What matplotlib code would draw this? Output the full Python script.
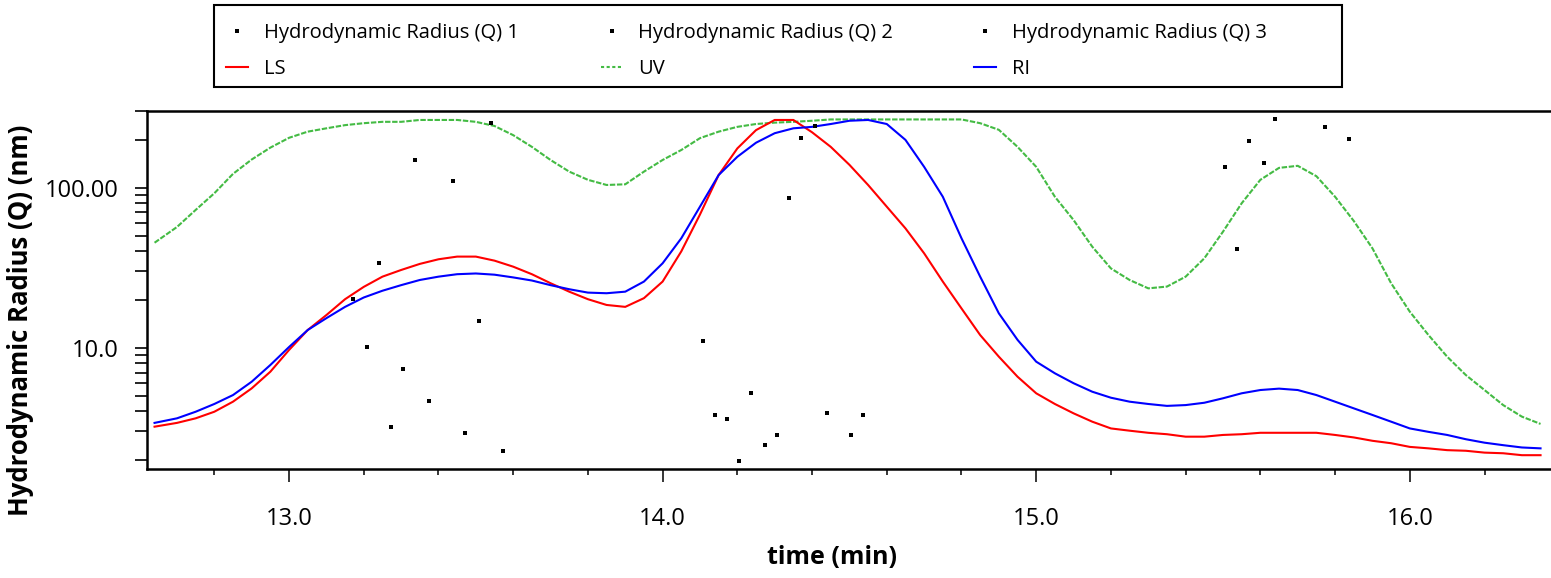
import matplotlib
matplotlib.use("Agg")
import matplotlib.pyplot as plt
from matplotlib.ticker import LogLocator, MultipleLocator, NullFormatter, FuncFormatter, FixedLocator
from matplotlib.lines import Line2D
from matplotlib.patches import Rectangle

plt.rcParams['font.family'] = ['Open Sans', 'DejaVu Sans']

# ---------------- data ----------------
time_min = [12.64, 12.70, 12.75, 12.80, 12.85, 12.90, 12.95,
            13.00, 13.05, 13.10, 13.15, 13.20, 13.25, 13.30, 13.35, 13.40, 13.45,
            13.50, 13.55, 13.60, 13.65, 13.70, 13.75, 13.80, 13.85, 13.90, 13.95,
            14.00, 14.05, 14.10, 14.15, 14.20, 14.25, 14.30, 14.35, 14.40, 14.45,
            14.50, 14.55, 14.60, 14.65, 14.70, 14.75, 14.80, 14.85, 14.90, 14.95,
            15.00, 15.05, 15.10, 15.15, 15.20, 15.25, 15.30, 15.35, 15.40, 15.45,
            15.50, 15.55, 15.60, 15.65, 15.70, 15.75, 15.80, 15.85, 15.90, 15.95,
            16.00, 16.05, 16.10, 16.15, 16.20, 16.25, 16.30, 16.35]

uv_signal = [45.3, 56.8, 72.6, 92.3, 122, 150, 178,
             205, 224, 235, 246, 253, 258, 258, 265, 265, 265,
             258, 243, 213, 180, 149, 126, 112, 104, 105, 126,
             149, 172, 204, 224, 240, 250, 255, 258, 262, 267,
             267, 267, 267, 267, 267, 267, 267, 253, 230, 180,
             135, 87.8, 62.8, 42.8, 31.3, 26.5, 23.5, 24.1, 27.8, 36.2,
             53.1, 79.9, 112, 133, 137, 118, 87.8, 62.0, 41.8, 25.3,
             16.8, 12.0, 8.79, 6.75, 5.44, 4.38, 3.71, 3.34]

ls_signal = [3.21, 3.39, 3.62, 3.98, 4.60, 5.57, 7.08,
             9.68, 12.9, 16.0, 20.1, 24.0, 27.8, 30.6, 33.4, 35.7, 37.1,
             37.1, 35.0, 32.1, 28.8, 25.3, 22.4, 20.1, 18.5, 18.0, 20.4,
             25.9, 40.0, 68.0, 120, 176, 229, 265, 265, 222, 180,
             139, 104, 76.1, 55.7, 38.9, 25.9, 17.6, 12.0, 8.79, 6.59,
             5.19, 4.45, 3.89, 3.45, 3.13, 3.03, 2.94, 2.88, 2.78, 2.78,
             2.85, 2.88, 2.94, 2.94, 2.94, 2.94, 2.85, 2.75, 2.62, 2.53,
             2.40, 2.35, 2.29, 2.27, 2.21, 2.19, 2.13, 2.13]

ri_signal = [3.39, 3.62, 3.98, 4.45, 5.06, 6.13, 7.80,
             10.1, 12.9, 15.3, 18.0, 20.6, 22.7, 24.6, 26.5, 27.8, 28.8,
             29.1, 28.6, 27.5, 26.3, 24.6, 23.2, 22.1, 21.9, 22.4, 25.9,
             33.7, 48.3, 76.1, 120, 156, 191, 219, 235, 240, 250,
             262, 265, 250, 199, 135, 87.8, 48.3, 27.8, 16.4, 11.2,
             8.18, 6.92, 6.00, 5.31, 4.87, 4.60, 4.45, 4.33, 4.38, 4.53,
             4.83, 5.19, 5.44, 5.55, 5.44, 5.06, 4.60, 4.18, 3.80, 3.45,
             3.13, 2.98, 2.85, 2.68, 2.55, 2.46, 2.38, 2.35]

hr1_time = [13.172, 13.209, 13.241, 13.273, 13.305, 13.337, 13.375, 13.439, 13.471, 13.509, 13.541, 13.573]
hr1_radius = [20.1, 10.1, 33.8, 3.19, 7.36, 150, 4.64, 110, 2.94, 14.7, 253, 2.27]

hr2_time = [14.108, 14.141, 14.173, 14.205, 14.237, 14.274, 14.307, 14.339, 14.371, 14.408, 14.440, 14.505, 14.537]
hr2_radius = [11.0, 3.80, 3.58, 1.96, 5.21, 2.47, 2.85, 86.6, 205, 244, 3.91, 2.85, 3.80]

hr3_time = [15.506, 15.538, 15.569, 15.609, 15.640, 15.773, 15.838]
hr3_radius = [134, 41.6, 195, 142, 268, 239, 201]

x_major_ticks = [13.0, 14.0, 15.0, 16.0]
x_tick_labels = ["13.0", "14.0", "15.0", "16.0"]
y_label_map = {100.0: "100.00", 10.0: "10.0"}

legend_labels = ["Hydrodynamic Radius (Q) 1", "Hydrodynamic Radius (Q) 2", "Hydrodynamic Radius (Q) 3",
                 "LS", "UV", "RI"]

# ---------------- layout ----------------
W, H = 1551, 578
fig = plt.figure(figsize=(W / 100, H / 100), dpi=100)

def fx(px):
    return px / W

def fy(py):
    return 1 - py / H

ax = fig.add_axes([fx(146.7), fy(469), fx(W - 146.7), (469 - 111) / H])

green = '#44bb44'
red = '#ff0000'
blue = '#0000ff'
uv_ls = (0, (2.6, 0.8))

ax.plot(time_min, uv_signal, color=green, lw=1.5, linestyle=uv_ls)
ax.plot(time_min, ls_signal, color=red, lw=1.5)
ax.plot(time_min, ri_signal, color=blue, lw=1.5)
for tt, rr in [(hr1_time, hr1_radius), (hr2_time, hr2_radius), (hr3_time, hr3_radius)]:
    ax.plot(tt, rr, linestyle='none', marker='s', ms=3.2, color='black', mew=0)

ax.set_yscale('log')
ax.set_ylim(1.746, 301.5)
ax.set_xlim(12.619, 16.378)

ax.xaxis.set_major_locator(FixedLocator(x_major_ticks))
ax.set_xticklabels(x_tick_labels)
ax.xaxis.set_minor_locator(MultipleLocator(0.2))

ax.yaxis.set_major_locator(LogLocator(base=10))
ax.yaxis.set_minor_locator(LogLocator(base=10, subs=(2, 3, 4, 5, 6, 7, 8, 9)))
ax.yaxis.set_major_formatter(FuncFormatter(lambda v, p: y_label_map.get(round(v, 6), "")))
ax.yaxis.set_minor_formatter(NullFormatter())

ax.tick_params(axis='x', which='major', direction='out', length=9, width=1.1, pad=18.5,
               labelsize=17, colors='black')
ax.tick_params(axis='x', which='minor', direction='out', length=4, width=1.1)
ax.tick_params(axis='y', which='both', direction='out', length=8.6, width=1.2)
ax.tick_params(axis='y', which='major', pad=11.5, labelsize=17)

for s in ['left', 'top', 'bottom']:
    ax.spines[s].set_linewidth(1.8)
    ax.spines[s].set_color('black')
ax.spines['right'].set_visible(False)

ax.set_xlabel("time (min)", fontsize=18, fontweight='bold')
ax.xaxis.set_label_coords((832 - 146.7) / (W - 146.7), (469 - 558) / 358)
ax.xaxis.label.set_va('center')
ax.set_ylabel("Hydrodynamic Radius (Q) (nm)", fontsize=18.5, fontweight='bold')
ax.yaxis.set_label_coords((21 - 146.7) / (W - 146.7), (469 - 320) / 358)
ax.yaxis.label.set_va('center')

# ---------------- legend ----------------
fig.add_artist(Rectangle((fx(213.6), fy(87)), fx(1342 - 213.6), (87 - 5) / H,
                         transform=fig.transFigure, fill=False, edgecolor='black', lw=1.5))

scatter_h = Line2D([], [], linestyle='none', marker='s', ms=3.2, color='black', mew=0)
col_handles = [
    (scatter_h, Line2D([], [], color=red, lw=1.5)),
    (scatter_h, Line2D([], [], color=green, lw=1.5, linestyle=(0, (1.5, 1.2)))),
    (scatter_h, Line2D([], [], color=blue, lw=1.5)),
]
col_labels = [(legend_labels[0], legend_labels[3]),
              (legend_labels[1], legend_labels[4]),
              (legend_labels[2], legend_labels[5])]
col_x = [226, 600.5, 973.6]
fs_leg = 14.5
fs_px = fs_leg * 100 / 72
for cx, hs, ls in zip(col_x, col_handles, col_labels):
    fig.legend(list(hs), list(ls), loc='upper left', bbox_to_anchor=(fx(cx), fy(23)),
               frameon=False, borderpad=0, borderaxespad=0, fontsize=fs_leg,
               handlelength=22 / fs_px, handletextpad=16 / fs_px,
               labelspacing=0.8, numpoints=1)

fig.savefig("out.png", dpi=100)
